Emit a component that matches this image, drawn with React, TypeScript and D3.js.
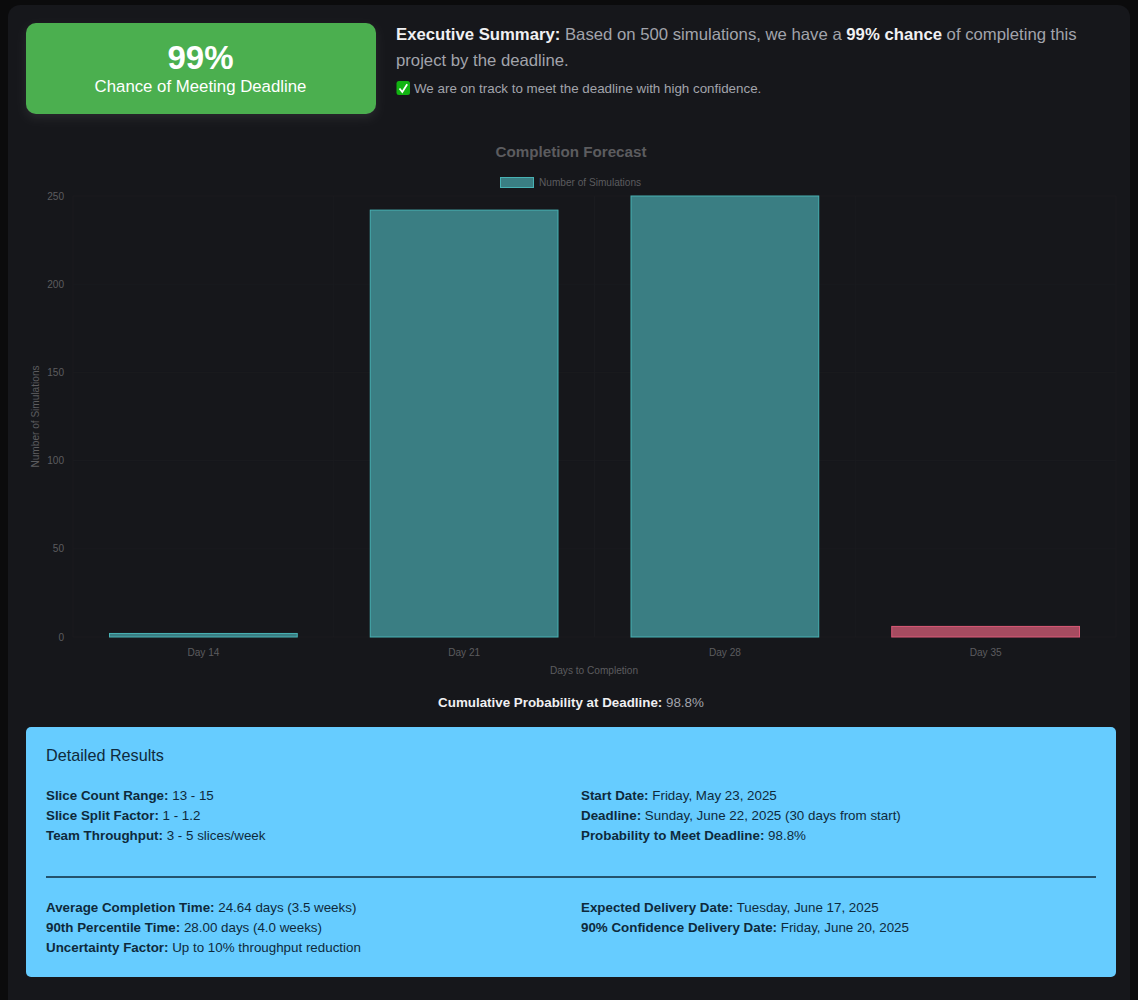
import React from "react";
import * as d3 from "d3";

const categories = ["Day 14", "Day 21", "Day 28", "Day 35"];
const simulations = [2, 242, 250, 6];
const yTicks = [0, 50, 100, 150, 200, 250];
const barFills = ["#3a7e83", "#3a7e83", "#3a7e83", "#a64b60"];
const barStrokes = ["#48b2b4", "#48b2b4", "#48b2b4", "#dc5a78"];
const summaryRows1 = [
  ["Slice Count Range:", "13 - 15"],
  ["Slice Split Factor:", "1 - 1.2"],
  ["Team Throughput:", "3 - 5 slices/week"],
];
const summaryRows2 = [
  ["Start Date:", "Friday, May 23, 2025"],
  ["Deadline:", "Sunday, June 22, 2025 (30 days from start)"],
  ["Probability to Meet Deadline:", "98.8%"],
];
const summaryRows3 = [
  ["Average Completion Time:", "24.64 days (3.5 weeks)"],
  ["90th Percentile Time:", "28.00 days (4.0 weeks)"],
  ["Uncertainty Factor:", "Up to 10% throughput reduction"],
];
const summaryRows4 = [
  ["Expected Delivery Date:", "Tuesday, June 17, 2025"],
  ["90% Confidence Delivery Date:", "Friday, June 20, 2025"],
];

const FONT = "'Liberation Sans', Arial, Helvetica, sans-serif";
const DARK = "#0e2a3c";

function Rows({ rows, x, y }: { rows: string[][]; x: number; y: number }) {
  return (
    <g fontSize={13.37} fill={DARK}>
      {rows.map((r, i) => (
        <text key={r[0]} x={x} y={y + i * 20}>
          <tspan fontWeight="bold">{r[0]}</tspan> {r[1]}
        </text>
      ))}
    </g>
  );
}

export default function App() {
  const x = d3.scaleBand<string>().domain(categories).range([73, 1116]).paddingInner(0);
  const y = d3.scaleLinear().domain([0, 250]).range([637, 196]);
  const bw = x.bandwidth() * 0.72;
  const tickColor = "#5c5c5f";
  const grid = "#1a1b1f";
  return (
    <svg
      width={1138}
      height={1000}
      viewBox="0 0 1138 1000"
      style={{ position: "absolute", left: 0, top: 0, display: "block" }}
      fontFamily={FONT}
    >
      <defs>
        <filter id="glow" x="-20%" y="-40%" width="140%" height="190%">
          <feDropShadow dx="0" dy="4" stdDeviation="5" floodColor="#ffffff" floodOpacity="0.08" />
        </filter>
      </defs>
      <rect width={1138} height={1000} fill="#0b0b0c" />
      <rect x={8} y={5} width={1122} height={1010} rx={12} fill="#16171b" />

      <rect x={26} y={23} width={350} height={91} rx={10} fill="#4caf50" filter="url(#glow)" />
      <text x={200.5} y={69} textAnchor="middle" fontSize={33} fontWeight="bold" fill="#fff">99%</text>
      <text x={200.5} y={92} textAnchor="middle" fontSize={16.8} fill="#fff">Chance of Meeting Deadline</text>

      <text x={396} y={40} fontSize={16.72} fill="#a2a4ab">
        <tspan fontWeight="bold" fill="#f0f0f2">Executive Summary:</tspan> Based on 500 simulations, we have a{" "}
        <tspan fontWeight="bold" fill="#f0f0f2">99% chance</tspan> of completing this
      </text>
      <text x={396} y={66} fontSize={16.72} fill="#a2a4ab">project by the deadline.</text>
      <rect x={396.5} y={81} width={13.5} height={14} rx={2.5} fill="#12b312" />
      <path d="M399.5 88.5 L402.3 92 L407.2 84.2" fill="none" stroke="#fff" strokeWidth={1.8} />
      <text x={414} y={93} fontSize={13.37} fill="#a2a4ab">We are on track to meet the deadline with high confidence.</text>

      <text x={571} y={156.5} textAnchor="middle" fontSize={15.2} fontWeight="bold" fill="#5c5c5f">Completion Forecast</text>
      <rect x={500.5} y={177.5} width={33} height={10} fill={barFills[0]} stroke={barStrokes[0]} />
      <text x={539} y={186} fontSize={10.1} fill={tickColor}>Number of Simulations</text>

      {yTicks.map((t) => (
        <g key={t}>
          <line x1={73} x2={1116} y1={y(t)} y2={y(t)} stroke={grid} />
          <text x={64} y={y(t) + 3.6} textAnchor="end" fontSize={10.1} fill={tickColor}>{t}</text>
        </g>
      ))}
      {categories.map((c) => (
        <line key={c} x1={x(c)!} x2={x(c)!} y1={196} y2={637} stroke={grid} />
      ))}
      <line x1={1116} x2={1116} y1={196} y2={637} stroke={grid} />
      <text transform="translate(38.5,416.5) rotate(-90)" textAnchor="middle" fontSize={10.1} fill={tickColor}>Number of Simulations</text>

      {categories.map((c, i) => {
        const cx = x(c)! + x.bandwidth() / 2;
        return (
          <g key={c}>
            <rect
              x={cx - bw / 2}
              y={y(simulations[i])}
              width={bw}
              height={y(0) - y(simulations[i])}
              fill={barFills[i]}
              stroke={barStrokes[i]}
              strokeWidth={1}
            />
            <text x={cx} y={655.5} textAnchor="middle" fontSize={10.1} fill={tickColor}>{c}</text>
          </g>
        );
      })}
      <text x={594} y={674} textAnchor="middle" fontSize={10.1} fill={tickColor}>Days to Completion</text>

      <text x={571} y={707} textAnchor="middle" fontSize={13.37} fill="#a2a4ab">
        <tspan fontWeight="bold" fill="#f0f0f2">Cumulative Probability at Deadline:</tspan> 98.8%
      </text>

      <rect x={26} y={727} width={1090} height={250} rx={5} fill="#66ccff" />
      <text x={46} y={761} fontSize={16.2} fill={DARK}>Detailed Results</text>
      <Rows rows={summaryRows1} x={46} y={800} />
      <Rows rows={summaryRows2} x={581} y={800} />
      <line x1={46} x2={1096} y1={877} y2={877} stroke={DARK} strokeWidth={1.5} />
      <Rows rows={summaryRows3} x={46} y={912} />
      <Rows rows={summaryRows4} x={581} y={912} />
    </svg>
  );
}
